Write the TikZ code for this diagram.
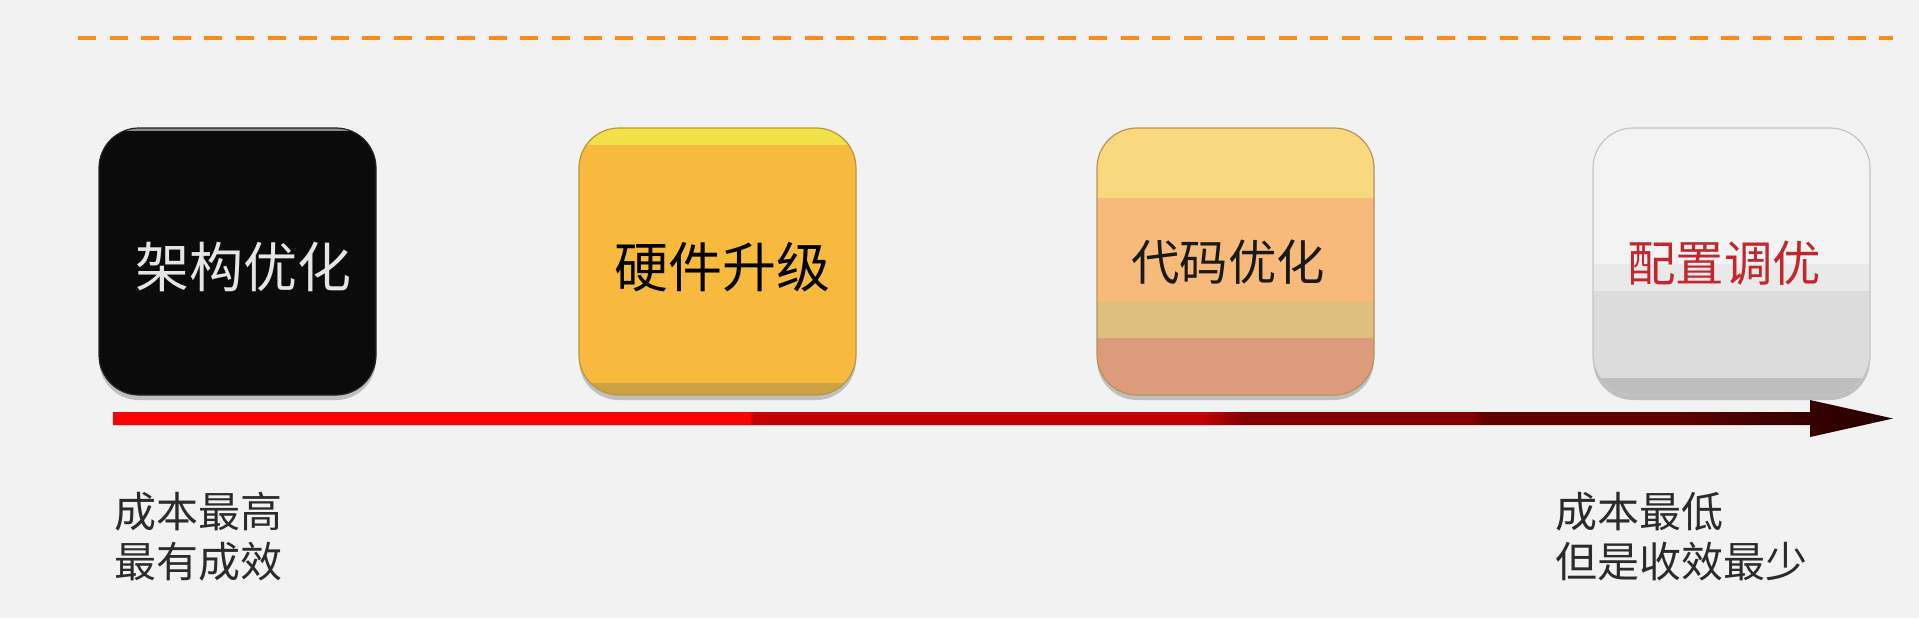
\documentclass[tikz,border=0pt]{standalone}
\usepackage{fontspec}
\newfontfamily\cjk{Noto Sans CJK SC}
\usetikzlibrary{calc,shadows}
\definecolor{bg}{HTML}{F2F2F2}
\definecolor{dashc}{HTML}{FF8A14}
\definecolor{aA}{HTML}{FF0000}
\definecolor{aB}{HTML}{C40000}
\definecolor{aC}{HTML}{820000}
\definecolor{aD}{HTML}{600000}
\definecolor{aE}{HTML}{330000}
\definecolor{aF}{HTML}{2A0000}
\definecolor{bOne}{HTML}{0B0B0B}
\definecolor{bTwo}{HTML}{F7BA3E}
\definecolor{bTwoTop}{HTML}{F2E24A}
\definecolor{bTwoBot}{HTML}{CDA244}
\definecolor{bTwoLine}{HTML}{B8963A}
\definecolor{cY}{HTML}{F8D97F}
\definecolor{cP}{HTML}{F8BA7B}
\definecolor{cT}{HTML}{DEBF7D}
\definecolor{cS}{HTML}{DC9B7C}
\definecolor{cLine}{HTML}{B9925A}
\definecolor{gA}{HTML}{F3F3F3}
\definecolor{gB}{HTML}{E9E9E9}
\definecolor{gC}{HTML}{DCDCDC}
\definecolor{gD}{HTML}{BEBEBE}
\definecolor{gLine}{HTML}{C4C4C4}
\definecolor{redtxt}{HTML}{C1272D}
\definecolor{txtgray}{HTML}{2B2B2B}
\pgfdeclarehorizontalshading{arrowshade}{100bp}{color(0bp)=(aA); color(25bp)=(aA); color(42.88bp)=(aA); color(43.0bp)=(aB); color(55.6bp)=(aB); color(56.8bp)=(aC); color(63.2bp)=(aC); color(63.5bp)=(aD); color(68.8bp)=(aD); color(72.8bp)=(aE); color(75bp)=(aF); color(100bp)=(aF)}
\tikzset{
  box/.style={rounded corners=20pt, minimum width=138.5pt, minimum height=133.5pt, inner sep=0pt, line width=0.6pt,
    drop shadow={shadow xshift=0pt, shadow yshift=-2.5pt, opacity=0.3, fill=black!70}},
  band/.style={sharp corners},
  lbl/.style={inner sep=0pt, font=\cjk\fontsize{27pt}{32pt}\selectfont},
  lbls/.style={inner sep=0pt, font=\cjk\fontsize{24.2pt}{29pt}\selectfont},
  note/.style={inner sep=0pt, anchor=west, align=left, text=txtgray, font=\cjk\fontsize{21pt}{25pt}\selectfont},
  dashline/.style={dashc, line width=2pt, dash pattern=on 9pt off 6.8pt},
}
\begin{document}
\begin{tikzpicture}[x=0.5pt,y=-0.5pt]
\fill[bg] (0,0) rectangle (1919,618);
\useasboundingbox (0,0) rectangle (1919,618);
% dashed line
\coordinate (dS) at (78,38);
\coordinate (dE) at (1893,38);
\draw[dashline] (dS) -- (dE);
% boxes
\node[box, draw=black!85, fill=bOne,
  path picture={\fill[band, black!45] (path picture bounding box.north west) rectangle ($(path picture bounding box.north east)+(0,3)$);}]
  (b1) at (237.5,261.5) {};
\node[box, draw=bTwoLine, fill=bTwo,
  path picture={
    \shade[band, top color=bTwoTop, bottom color=bTwo] (path picture bounding box.north west) rectangle ($(path picture bounding box.north east)+(0,16)$);
    \fill[band, bTwoBot] ($(path picture bounding box.south west)+(0,-12)$) rectangle (path picture bounding box.south east);}]
  (b2) at (717.5,261.5) {};
\node[box, draw=cLine, fill=cS,
  path picture={
    \fill[band, cY] (path picture bounding box.north west) rectangle ($(path picture bounding box.north east)+(0,70)$);
    \fill[band, cP] ($(path picture bounding box.north west)+(0,70)$) rectangle ($(path picture bounding box.north east)+(0,174)$);
    \fill[band, cT] ($(path picture bounding box.north west)+(0,174)$) rectangle ($(path picture bounding box.north east)+(0,210)$);
    \fill[band, cS] ($(path picture bounding box.north west)+(0,210)$) rectangle (path picture bounding box.south east);}]
  (b3) at (1235.5,261.5) {};
\node[box, draw=gLine, fill=gA,
  path picture={
    \fill[band, gB] ($(path picture bounding box.north west)+(0,136)$) rectangle ($(path picture bounding box.north east)+(0,163)$);
    \fill[band, gC] ($(path picture bounding box.north west)+(0,163)$) rectangle ($(path picture bounding box.north east)+(0,250)$);
    \fill[band, gD] ($(path picture bounding box.north west)+(0,250)$) rectangle (path picture bounding box.south east);}]
  (b4) at (1731.5,261.5) {};
% box labels
\node[lbl, text=white!90!black] (t1) at (243,267) {架构优化};
\node[lbl, text=black] (t2) at (722,267) {硬件升级};
\node[lbls, text=black!90] (t3) at (1228,262) {代码优化};
\node[lbls, text=redtxt] (t4) at (1724,263) {配置调优};
% arrow
\coordinate (aS) at (113,418.5);
\coordinate (aE) at (1893,418.5);
\shade[shading=arrowshade]
  ($(aS)+(0,-6.5)$) -- ($(aE)+(-83,-6.5)$) -- ($(aE)+(-83,-18.5)$) -- (aE)
  -- ($(aE)+(-83,18.5)$) -- ($(aE)+(-83,6.5)$) -- ($(aS)+(0,6.5)$) -- cycle;
% notes
\node[note] (n1) at (114,537) {成本最高\\最有成效};
\node[note] (n2) at (1555,537) {成本最低\\但是收效最少};
\end{tikzpicture}
\end{document}
